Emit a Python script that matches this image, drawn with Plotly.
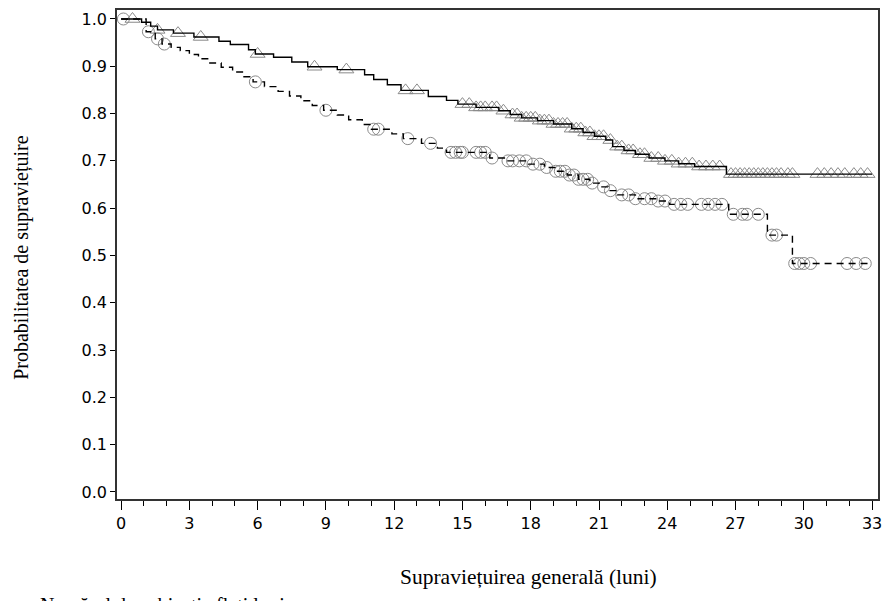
import plotly.graph_objects as go

# Group 1 (solid line, triangle censor marks): event times and survival after each step
solid_time = [0, 0.9, 1.3, 1.6, 2.3, 3.2, 4.3, 4.8, 5.6, 5.9, 6.7, 7.5, 8.2, 9.5, 10.7, 11.1, 11.7, 12.3,
              13.5, 14.3, 14.8, 15.6, 16.6, 17.1, 17.6, 18.3, 19.0, 19.8, 20.3, 20.8, 21.3, 21.6,
              22.1, 22.6, 23.2, 23.9, 24.5, 25.2, 26.6]
solid_surv = [1.0, 0.993, 0.985, 0.977, 0.970, 0.962, 0.953, 0.946, 0.935, 0.926, 0.919, 0.909, 0.899,
              0.893, 0.882, 0.872, 0.861, 0.849, 0.836, 0.828, 0.820, 0.813, 0.806, 0.798, 0.791,
              0.785, 0.778, 0.768, 0.760, 0.752, 0.744, 0.730, 0.722, 0.714, 0.706, 0.700, 0.694,
              0.688, 0.672]
solid_censor = [0.5, 1.6, 2.5, 3.5, 6.0, 8.5, 9.9, 12.5, 13.0, 15.0, 15.3, 15.6, 15.8, 16.0, 16.3, 16.5,
                16.8, 17.2, 17.4, 17.6, 17.8, 18.0, 18.2, 18.4, 18.6, 18.8, 19.0, 19.2, 19.4, 19.6,
                19.8, 20.0, 20.2, 20.4, 20.6, 20.8, 21.0, 21.2, 21.5, 21.8, 22.0, 22.3, 22.5, 22.8,
                23.0, 23.3, 23.6, 23.9, 24.2, 24.5, 24.8, 25.1, 25.4, 25.7, 26.0, 26.3, 26.8, 27.0,
                27.2, 27.4, 27.6, 27.8, 28.0, 28.2, 28.4, 28.6, 28.8, 29.0, 29.3, 29.5, 30.6, 30.9,
                31.2, 31.5, 31.8, 32.2, 32.5, 32.8]
solid_end = 33.0

# Group 2 (dashed line, circle censor marks)
dash_time = [0, 1.1, 1.5, 1.8, 2.2, 2.6, 3.0, 3.4, 3.9, 4.4, 4.9, 5.4, 5.8, 6.3, 6.9, 7.4, 7.9, 8.4,
             8.9, 9.5, 10.0, 10.6, 11.0, 11.9, 12.4, 13.2, 13.9, 14.3, 16.2, 16.9, 17.9, 18.6, 19.1,
             19.6, 20.1, 20.6, 21.0, 21.4, 21.8, 22.6, 23.6, 24.1, 26.7, 28.4, 29.5]
dash_surv = [1.0, 0.973, 0.958, 0.947, 0.940, 0.933, 0.925, 0.916, 0.907, 0.898, 0.888, 0.878, 0.867,
             0.857, 0.847, 0.837, 0.827, 0.817, 0.807, 0.797, 0.787, 0.777, 0.767, 0.757, 0.747,
             0.737, 0.727, 0.718, 0.706, 0.700, 0.693, 0.686, 0.678, 0.670, 0.661, 0.653, 0.645,
             0.637, 0.628, 0.620, 0.615, 0.608, 0.587, 0.543, 0.483]
dash_censor = [0.1, 1.2, 1.6, 1.9, 5.9, 9.0, 11.1, 11.3, 12.6, 13.6, 14.5, 14.7, 14.9, 15.0, 15.6, 15.8,
               16.0, 16.3, 17.0, 17.2, 17.5, 17.8, 18.1, 18.4, 18.7, 19.1, 19.3, 19.5, 19.7, 19.9,
               20.1, 20.3, 20.5, 20.7, 21.2, 21.5, 22.0, 22.3, 22.6, 23.0, 23.3, 23.6, 23.9, 24.3,
               24.6, 24.9, 25.5, 25.8, 26.1, 26.4, 26.9, 27.3, 27.5, 28.0, 28.6, 28.8, 29.6, 29.8,
               30.0, 30.3, 31.9, 32.3, 32.7]
dash_end = 32.8

x_ticks = list(range(0, 34, 3))
y_ticks = [i / 10 for i in range(11)]


def surv_at(t, times, surv):
    s = surv[0]
    for ti, si in zip(times, surv):
        if ti <= t:
            s = si
    return s


fig = go.Figure()

# censor markers
fig.add_trace(go.Scatter(
    x=solid_censor, y=[surv_at(t, solid_time, solid_surv) for t in solid_censor],
    mode="markers",
    marker=dict(symbol="triangle-up-open", size=13, color="#8a8a8a", line=dict(width=1)),
    showlegend=False, hoverinfo="skip"))
fig.add_trace(go.Scatter(
    x=dash_censor, y=[surv_at(t, dash_time, dash_surv) for t in dash_censor],
    mode="markers",
    marker=dict(symbol="circle-open", size=12, color="#8a8a8a", line=dict(width=1)),
    showlegend=False, hoverinfo="skip"))

# step curves
fig.add_trace(go.Scatter(
    x=solid_time + [solid_end], y=solid_surv + [solid_surv[-1]],
    mode="lines", line=dict(shape="hv", color="black", width=1.4),
    showlegend=False))
fig.add_trace(go.Scatter(
    x=dash_time + [dash_end], y=dash_surv + [dash_surv[-1]],
    mode="lines", line=dict(shape="hv", color="black", width=1.4, dash="7px,5px"),
    showlegend=False))

tick_font = dict(family="DejaVu Sans", size=16, color="black")
title_font = dict(family="Liberation Serif", size=20, color="black")
xtitle_font = dict(family="Liberation Serif", size=21.5, color="black")

fig.update_layout(
    width=893, height=601,
    margin=dict(l=117, r=15, t=8, b=102),
    plot_bgcolor="white", paper_bgcolor="white",
    xaxis=dict(
        range=[-0.18, 33.26], tickmode="array", tickvals=x_ticks,
        ticks="outside", ticklen=9, tickcolor="black", tickwidth=1,
        minor=dict(dtick=1, ticks="outside", ticklen=5, tickcolor="black", tickwidth=1),
        showline=True, linecolor="#333", linewidth=1.5, mirror=True,
        showgrid=False, zeroline=False, tickfont=tick_font,
    ),
    yaxis=dict(
        range=[-0.015, 1.019], tickmode="array", tickvals=y_ticks,
        ticktext=[f"{v:.1f}" for v in y_ticks],
        ticks="outside", ticklen=5, tickcolor="black", tickwidth=1,
        showline=True, linecolor="#333", linewidth=1.5, mirror=True,
        showgrid=False, zeroline=False, tickfont=tick_font,
    ),
    annotations=[
        dict(text="Supraviețuirea generală (luni)", xref="paper", yref="paper",
             x=0.541, y=-0.159, xanchor="center", yanchor="middle", showarrow=False,
             font=xtitle_font),
        dict(text="Probabilitatea de supraviețuire", xref="paper", yref="paper",
             x=-0.125, y=0.493, xanchor="center", yanchor="middle", textangle=-90,
             showarrow=False, font=title_font),
        dict(text="Numărul de subiecți aflați la risc", xref="paper", yref="paper",
             x=-0.104, y=-0.191, xanchor="left", yanchor="top", showarrow=False,
             font=title_font),
    ],
)

fig.write_html("out.html")
